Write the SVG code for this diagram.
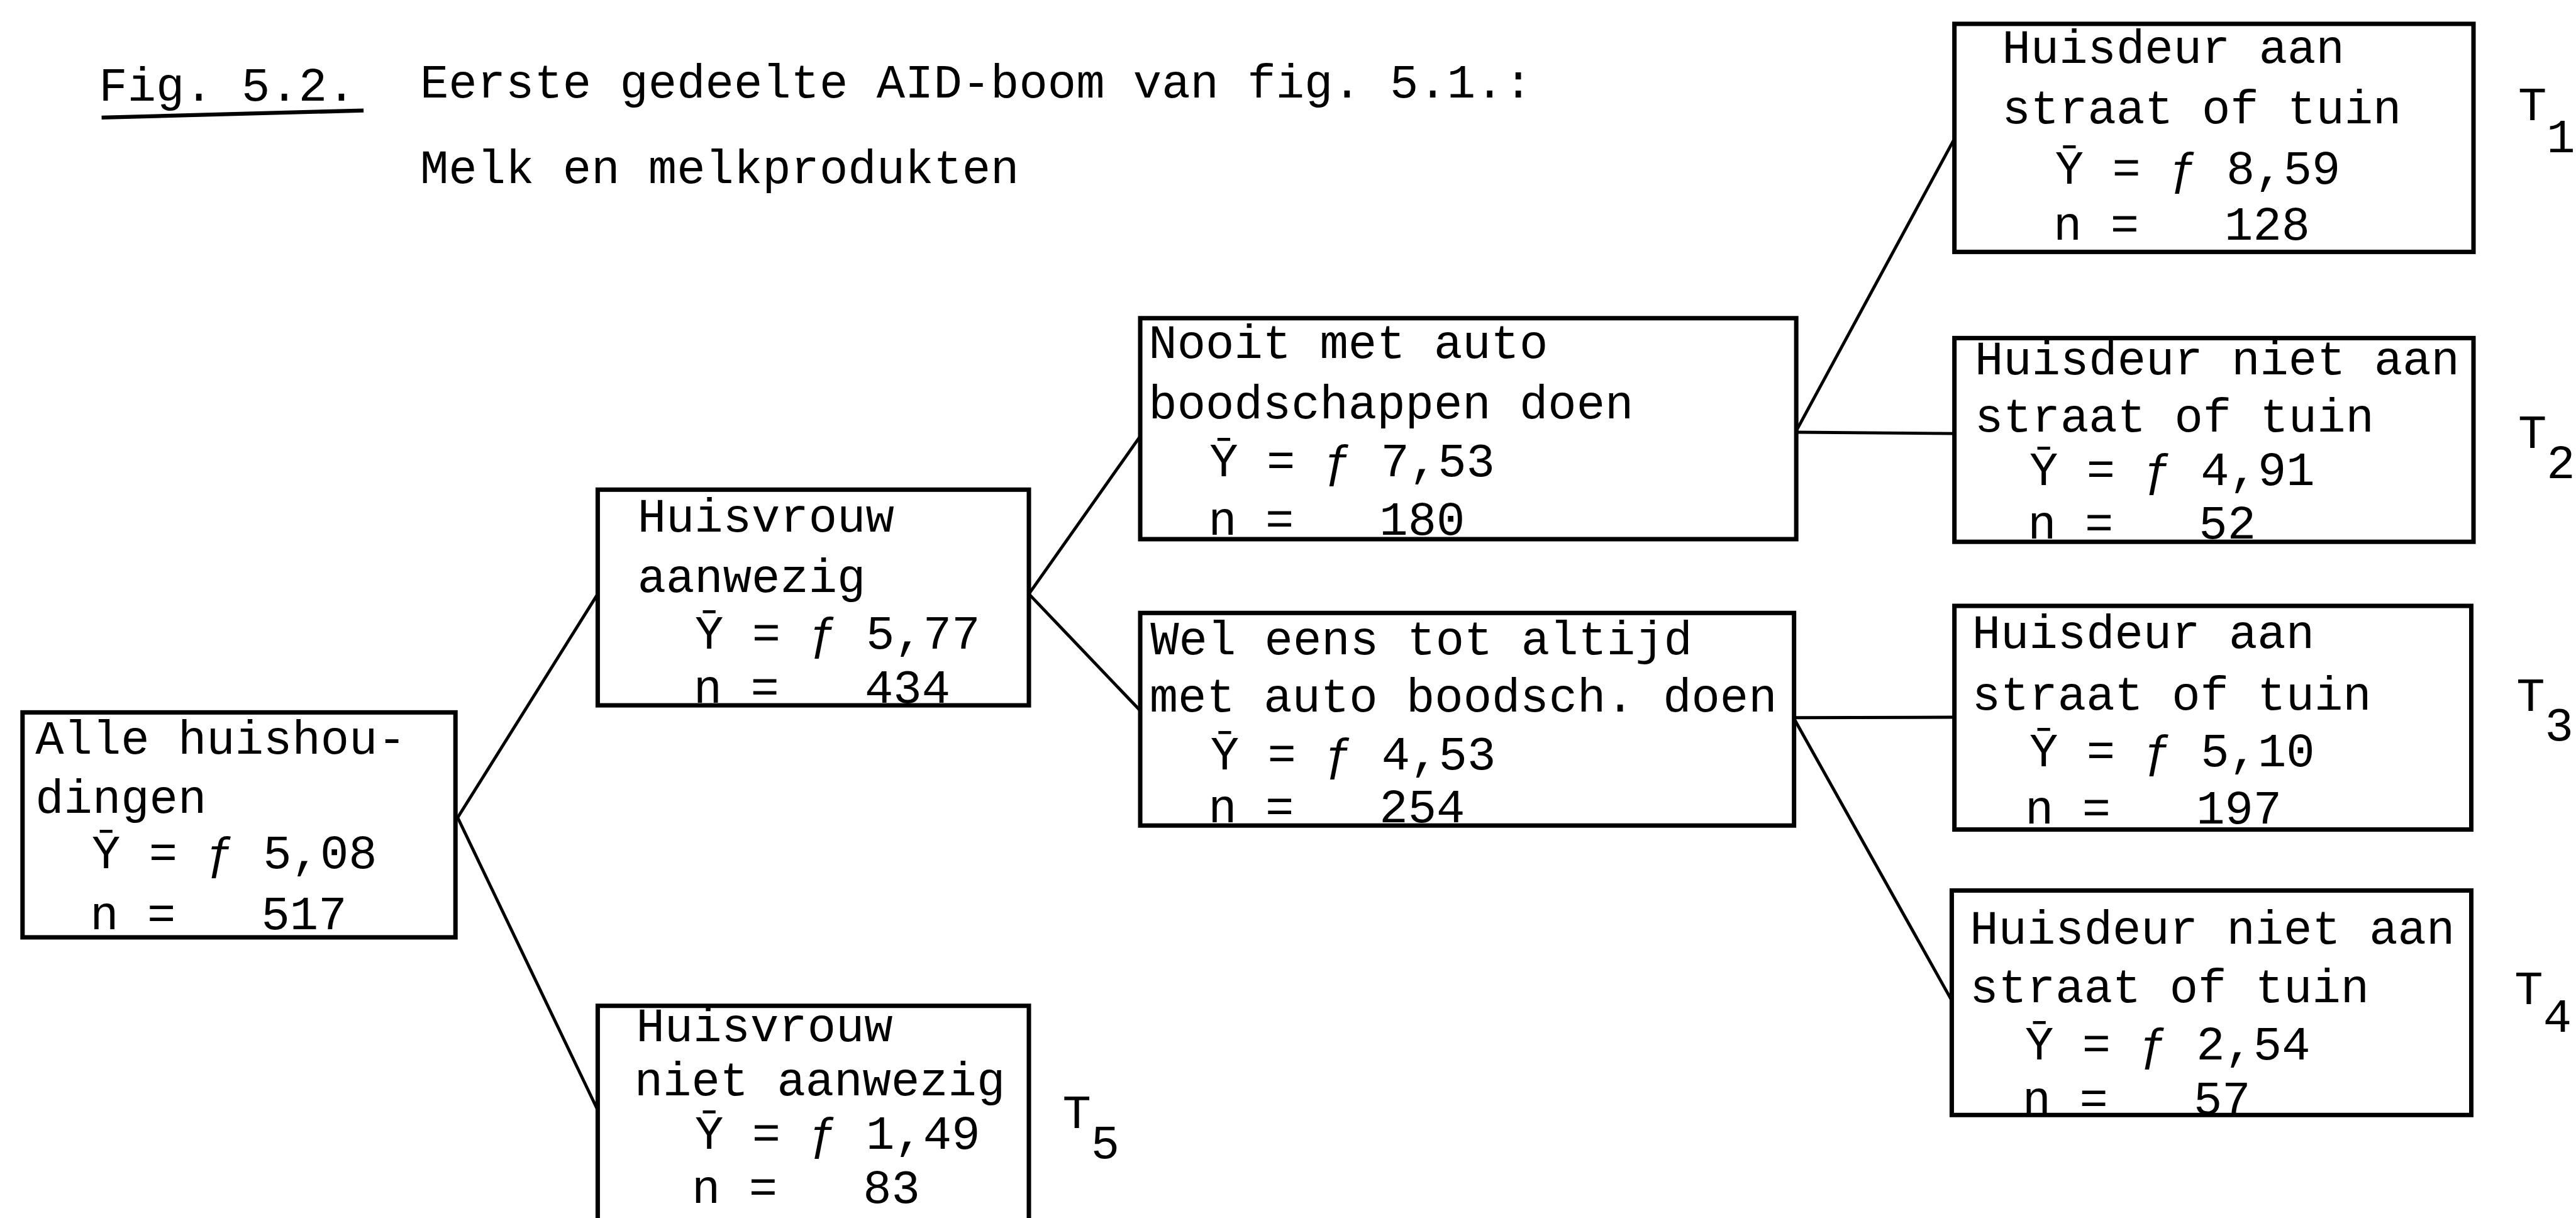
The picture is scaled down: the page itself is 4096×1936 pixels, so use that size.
<svg xmlns="http://www.w3.org/2000/svg" width="4096" height="1936" viewBox="0 0 4096 1936">
<style>
text { font-family: "Liberation Mono", "DejaVu Sans Mono", monospace; font-size: 107.6px; fill: #000; white-space: pre; }
.box { fill: none; stroke: #000; stroke-width: 10; stroke-linejoin: miter; }
.conn line { stroke: #000; stroke-width: 7; stroke-linecap: round; }
</style>
<rect x="0" y="0" width="4096" height="1936" fill="#fff"/>
<g transform="scale(0.70245)">
  <g id="title">
    <text x="224" y="228">Fig. 5.2.</text>
    <line x1="230" y1="266" x2="823" y2="250" stroke="#000" stroke-width="9"/>
    <text x="951" y="220">Eerste gedeelte AID-boom van fig. 5.1.:</text>
    <text x="951" y="414">Melk en melkprodukten</text>
  </g>
  <g id="connectors" class="conn">
    <line x1="1036" y1="1850" x2="1353" y2="1344"/>
    <line x1="1036" y1="1850" x2="1353" y2="2512"/>
    <line x1="2329" y1="1344" x2="2581" y2="987"/>
    <line x1="2329" y1="1344" x2="2581" y2="1608"/>
    <line x1="4066" y1="975" x2="4424" y2="314"/>
    <line x1="4066" y1="978" x2="4424" y2="981"/>
    <line x1="4061" y1="1624" x2="4424" y2="1623"/>
    <line x1="4061" y1="1626" x2="4418" y2="2264"/>
  </g>
  <g id="node-alle">
    <rect class="box" x="51" y="1612" width="980" height="509"/>
    <text x="80" y="1706">Alle huishou-</text>
    <text x="80" y="1839">dingen</text>
    <text x="208" y="1964">Ȳ = ƒ 5,08</text>
    <text x="204" y="2102">n =   517</text>
  </g>
  <g id="node-aanwezig">
    <rect class="box" x="1353" y="1108" width="976" height="488"/>
    <text x="1443" y="1203">Huisvrouw</text>
    <text x="1443" y="1339">aanwezig</text>
    <text x="1573" y="1468">Ȳ = ƒ 5,77</text>
    <text x="1570" y="1590">n =   434</text>
  </g>
  <g id="node-niet-aanwezig">
    <path class="box" d="M1353,2760 V2276 H2329 V2760"/>
    <text x="1440" y="2356">Huisvrouw</text>
    <text x="1436" y="2478">niet aanwezig</text>
    <text x="1573" y="2600">Ȳ = ƒ 1,49</text>
    <text x="1566" y="2722">n =   83</text>
    <text x="2405" y="2553">T<tspan dy="68">5</tspan></text>
  </g>
  <g id="node-nooit">
    <rect class="box" x="2581" y="720" width="1485" height="500"/>
    <text x="2600" y="810">Nooit met auto</text>
    <text x="2600" y="946">boodschappen doen</text>
    <text x="2738" y="1078">Ȳ = ƒ 7,53</text>
    <text x="2735" y="1210">n =   180</text>
  </g>
  <g id="node-wel-eens">
    <rect class="box" x="2581" y="1387" width="1480" height="481"/>
    <text x="2604" y="1480">Wel eens tot altijd</text>
    <text x="2602" y="1610">met auto boodsch. doen</text>
    <text x="2740" y="1741">Ȳ = ƒ 4,53</text>
    <text x="2735" y="1861">n =   254</text>
  </g>
  <g id="node-t1">
    <rect class="box" x="4424" y="54" width="1175" height="516"/>
    <text x="4532" y="142">Huisdeur aan</text>
    <text x="4532" y="279">straat of tuin</text>
    <text x="4652" y="415">Ȳ = ƒ 8,59</text>
    <text x="4648" y="543">n =   128</text>
    <text x="5700" y="272">T<tspan dy="72">1</tspan></text>
  </g>
  <g id="node-t2">
    <rect class="box" x="4424" y="765" width="1175" height="461"/>
    <text x="4470" y="847">Huisdeur niet aan</text>
    <text x="4470" y="977">straat of tuin</text>
    <text x="4594" y="1097">Ȳ = ƒ 4,91</text>
    <text x="4590" y="1219">n =   52</text>
    <text x="5700" y="1013">T<tspan dy="69">2</tspan></text>
  </g>
  <g id="node-t3">
    <rect class="box" x="4424" y="1371" width="1170" height="506"/>
    <text x="4464" y="1466">Huisdeur aan</text>
    <text x="4464" y="1606">straat of tuin</text>
    <text x="4594" y="1734">Ȳ = ƒ 5,10</text>
    <text x="4584" y="1864">n =   197</text>
    <text x="5696" y="1608">T<tspan dy="67">3</tspan></text>
  </g>
  <g id="node-t4">
    <rect class="box" x="4418" y="2015" width="1176" height="508"/>
    <text x="4459" y="2136">Huisdeur niet aan</text>
    <text x="4459" y="2268">straat of tuin</text>
    <text x="4584" y="2398">Ȳ = ƒ 2,54</text>
    <text x="4578" y="2521">n =   57</text>
    <text x="5692" y="2272">T<tspan dy="63">4</tspan></text>
  </g>
</g>
</svg>
